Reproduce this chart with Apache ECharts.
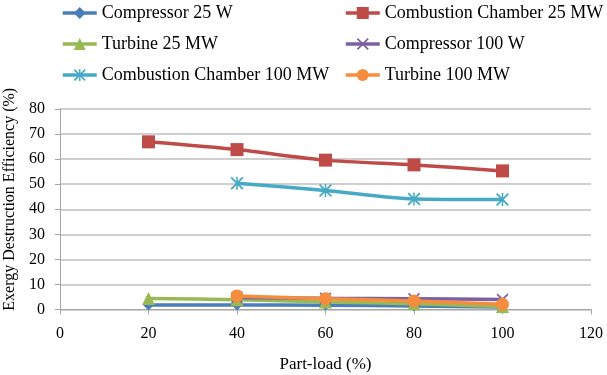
<!DOCTYPE html>
<html>
<head>
<meta charset="utf-8">
<script src="https://cdn.jsdelivr.net/npm/echarts@6/dist/echarts.min.js"></script>
<style>
  html, body { margin: 0; padding: 0; background: #fff; }
  #chart { width: 607px; height: 375px; }
</style>
</head>
<body>
<div id="chart"></div>
<script>
// part-load values on the x axis
const partLoad = [20, 40, 60, 80, 100];

const compressor25 = [1.8, 1.8, 1.7, 1.4, 1.0];
const combustion25 = [66.9, 63.8, 59.6, 57.7, 55.3];
const turbine25 = [4.4, 3.9, 3.0, 2.3, 1.2];
const compressor100 = [null, 4.8, 4.5, 4.3, 4.0];
const combustion100 = [null, 50.4, 47.5, 44.1, 43.9];
const turbine100 = [null, 5.4, 4.3, 3.4, 2.1];

const seriesNames = [
  'Compressor 25 W', 'Combustion Chamber 25 MW', 'Turbine 25 MW',
  'Compressor 100 W', 'Combustion Chamber 100 MW', 'Turbine 100 MW'
];
const xTicks = [0, 20, 40, 60, 80, 100, 120];

const font = 'Liberation Serif, Times New Roman, serif';

// X marker and asterisk marker as filled polygons
const xPath = 'path://M0,1 L1,0 L5,4 L9,0 L10,1 L6,5 L10,9 L9,10 L5,6 L1,10 L0,9 L4,5 Z';
const starPath = 'path://M0,1 L1,0 L5,4 L9,0 L10,1 L6,5 L10,9 L9,10 L5,6 L1,10 L0,9 L4,5 Z M4.4,0 L5.6,0 L5.6,10 L4.4,10 Z';

function pairs(values) {
  let out = [];
  values.forEach((v, i) => {
    if (v != null) out.push([partLoad[i], v]);
  });
  return out;
}

function makeSeries(name, values, color, symbol, size) {
  return {
    name: name,
    type: 'line',
    smooth: 0.25,
    data: pairs(values),
    symbol: symbol,
    symbolSize: size,
    showAllSymbol: true,
    lineStyle: { color: color, width: 3.5 },
    itemStyle: { color: color },
    emphasis: { disabled: true }
  };
}

const legendText = { fontFamily: font, fontSize: 18, color: '#000' };

let chart = echarts.init(document.getElementById('chart'));
chart.setOption({
  animation: false,
  backgroundColor: '#fff',
  legend: [
    {
      orient: 'vertical', left: 61, top: 4, itemGap: 13, padding: 0,
      itemWidth: 34, itemHeight: 15,
      lineStyle: { width: 3.5 },
      textStyle: legendText,
      data: [seriesNames[0], seriesNames[2], seriesNames[4]]
    },
    {
      orient: 'vertical', left: 344, top: 4, itemGap: 13, padding: 0,
      itemWidth: 34, itemHeight: 15,
      lineStyle: { width: 3.5 },
      textStyle: legendText,
      data: [seriesNames[1], seriesNames[3], seriesNames[5]]
    }
  ],
  grid: {
    left: 60, right: 16, top: 109, bottom: 65.5,
    containLabel: false, outerBoundsMode: 'none'
  },
  xAxis: {
    type: 'value',
    min: xTicks[0], max: xTicks[xTicks.length - 1], interval: 20,
    name: 'Part-load (%)',
    nameLocation: 'middle', nameGap: 47,
    nameTextStyle: { fontFamily: font, fontSize: 17, color: '#000' },
    axisLine: { show: true, lineStyle: { color: '#a6a6a6', width: 1 } },
    axisTick: { show: true, length: 5, lineStyle: { color: '#a6a6a6' } },
    axisLabel: { fontFamily: font, fontSize: 16, color: '#000', margin: 16 },
    splitLine: { show: false }
  },
  yAxis: {
    type: 'value',
    min: 0, max: 80, interval: 10,
    name: 'Exergy Destruction Efficiency (%)',
    nameLocation: 'middle', nameGap: 42,
    nameTextStyle: { fontFamily: font, fontSize: 16, color: '#000', padding: [0, 0, 0, 20] },
    axisLine: { show: true, lineStyle: { color: '#a6a6a6', width: 1 } },
    axisTick: { show: true, length: 5, lineStyle: { color: '#a6a6a6' } },
    axisLabel: { fontFamily: font, fontSize: 16, color: '#000', margin: 15 },
    splitLine: { show: true, lineStyle: { color: '#bfbfbf', width: 1.5 } }
  },
  series: [
    makeSeries(seriesNames[0], compressor25, '#4a7ebb', 'diamond', 11),
    makeSeries(seriesNames[1], combustion25, '#be4b48', 'rect', 13),
    makeSeries(seriesNames[2], turbine25, '#98b954', 'triangle', 13),
    makeSeries(seriesNames[3], compressor100, '#7d60a0', xPath, 12),
    makeSeries(seriesNames[4], combustion100, '#46aac4', starPath, 13),
    makeSeries(seriesNames[5], turbine100, '#f68c3e', 'circle', 13)
  ]
});
</script>
</body>
</html>
